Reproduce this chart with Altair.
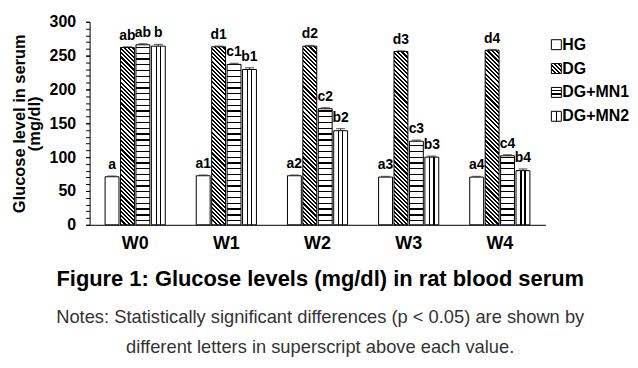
import altair as alt

# ---------------- data ----------------
weeks = ["W0", "W1", "W2", "W3", "W4"]
groups = ["HG", "DG", "DG+MN1", "DG+MN2"]
hg = [71, 72.5, 72.5, 70.5, 70.5]
dg = [262, 263, 264, 256, 258]
mn1 = [266, 237, 171.5, 123.5, 102]
mn2 = [264, 229.5, 139, 100, 80]
hg_err = [1, 1, 1, 1, 1]
dg_err = [1, 1, 1, 1, 1]
mn1_err = [1.5, 1.5, 1.5, 1.5, 1.5]
mn2_err = [2.5, 2.5, 3, 1.5, 2.5]
hg_lbl = ["a", "a1", "a2", "a3", "a4"]
dg_lbl = ["ab", "d1", "d2", "d3", "d4"]
mn1_lbl = ["ab", "c1", "c2", "c3", "c4"]
mn2_lbl = ["b", "b1", "b2", "b3", "b4"]
y_major = [0, 50, 100, 150, 200, 250, 300]
y_minor = list(range(0, 301, 10))

FONT = "Liberation Sans"
PLOT_W, PLOT_H, Y_MAX = 458, 204, 300
PI_X, PO_X, PI_OFF = 0.34, 0.17, 0.1

# bar pixel width (for hatch patterns)
step = PLOT_W / (len(weeks) - PI_X + 2 * PO_X)
band = step * (1 - PI_X)
sub = band / (len(groups) - PI_OFF)
BAR_W = sub * (1 - PI_OFF)


def stops_from(starts, thick_frac):
    st = [{"offset": 0, "color": "#ffffff"}]
    for a in starts:
        b = min(a + thick_frac, 1)
        if a >= 1:
            break
        st += [{"offset": a, "color": "#ffffff"}, {"offset": a, "color": "#000000"},
               {"offset": b, "color": "#000000"}, {"offset": b, "color": "#ffffff"}]
    st.append({"offset": 1, "color": "#ffffff"})
    return st


def diag_fill(w, h, period=4.2, frac=0.5):
    k = (w + h) / (w * w + h * h)
    n = int((w + h) / period) + 1
    starts = [i * period / (w + h) for i in range(n)]
    return {"gradient": "linear", "x1": 0, "y1": 1, "x2": k * w, "y2": 1 - k * h,
            "stops": stops_from(starts, frac * period / (w + h))}


def hline_fill(h, period=5.8, thick=1.3):
    n = int(h / period) + 1
    starts = [(i * period + period * 0.6) / h for i in range(n)]
    return {"gradient": "linear", "x1": 1, "y1": 1, "x2": 1, "y2": 0,
            "stops": stops_from(starts, thick / h)}


def vline_fill(centers=(0.355, 0.655), thick=0.09):
    return {"gradient": "linear", "x1": 0, "y1": 0, "x2": 1, "y2": 0,
            "stops": stops_from([c - thick / 2 for c in centers], thick)}


def fill_for(g, w, h):
    if g == "DG":
        return diag_fill(w, h)
    if g == "DG+MN1":
        return hline_fill(h)
    if g == "DG+MN2":
        return vline_fill()
    return "#ffffff"


rows = []
for g, vals, errs, lbls in zip(groups, [hg, dg, mn1, mn2], [hg_err, dg_err, mn1_err, mn2_err],
                               [hg_lbl, dg_lbl, mn1_lbl, mn2_lbl]):
    for wk, v, e, lb in zip(weeks, vals, errs, lbls):
        rows.append({"week": wk, "group": g, "value": v, "top": v + e, "label": lb,
                     "fillg": fill_for(g, BAR_W, v * PLOT_H / Y_MAX)})

base = alt.Chart(alt.Data(values=rows)).encode(
    x=alt.X("week:N", sort=weeks,
            scale=alt.Scale(paddingInner=PI_X, paddingOuter=PO_X),
            axis=alt.Axis(title=None, labelAngle=0, ticks=False, labelFont=FONT,
                          labelFontSize=18, labelFontWeight="bold", labelColor="black",
                          labelPadding=10, domainColor="black", domainWidth=1)),
    xOffset=alt.XOffset("group:N", sort=groups,
                        scale=alt.Scale(paddingInner=PI_OFF, paddingOuter=0)),
)

yscale = alt.Scale(domain=[0, Y_MAX], nice=False)
bars = base.mark_bar(stroke="black", strokeWidth=1).encode(
    y=alt.Y("value:Q", scale=yscale,
            axis=alt.Axis(values=y_major, labelOverlap=False, grid=False, domainColor="black",
                          tickColor="black", tickSize=4,
                          labelFont=FONT, labelFontSize=16, labelFontWeight="bold",
                          labelColor="black", labelPadding=10,
                          title=["Glucose level in serum", "(mg/dl)"], titleFont=FONT,
                          titleFontSize=16.5, titleFontWeight="bold", titleColor="black",
                          titleLineHeight=15, titlePadding=7)),
    fill=alt.Fill("fillg:N", scale=None),
)
err_rule = base.mark_rule(color="#333333", strokeWidth=1).encode(
    y=alt.Y("value:Q", scale=yscale,
            axis=alt.Axis(values=y_minor, labels=False, domain=False, grid=False,
                          tickColor="black", tickSize=4, title=None, orient="left")),
    y2="top:Q")
err_cap = base.mark_tick(color="#333333", thickness=1.3, size=9).encode(
    y=alt.Y("top:Q", scale=yscale, axis=None))
labels = base.mark_text(baseline="bottom", dy=-4, font=FONT, fontSize=14,
                        fontWeight="bold", color="black").encode(
    y=alt.Y("top:Q", scale=yscale, axis=None), text="label:N")

main = (bars + err_rule + err_cap + labels).resolve_axis(y="independent").properties(
    width=PLOT_W, height=PLOT_H)

# ---------------- legend ----------------
leg_fill = {"HG": "#ffffff", "DG": diag_fill(10, 10, period=4.0),
            "DG+MN1": {"gradient": "linear", "x1": 1, "y1": 1, "x2": 1, "y2": 0,
                       "stops": stops_from([0.28, 0.6], 0.13)},
            "DG+MN2": vline_fill(centers=(0.5,), thick=0.13)}
leg_rows = [{"group": g, "fillg": leg_fill[g]} for g in groups]
leg_base = alt.Chart(alt.Data(values=leg_rows)).encode(
    y=alt.Y("group:N", sort=groups, scale=alt.Scale(type="point", padding=0.96), axis=None))
leg_sq = leg_base.mark_point(shape="square", size=100, filled=True, stroke="black",
                             strokeWidth=1, opacity=1).encode(
    x=alt.value(11), fill=alt.Fill("fillg:N", scale=None))
leg_tx = leg_base.mark_text(align="left", baseline="middle", font=FONT, fontSize=16,
                            fontWeight="bold", color="black").encode(
    x=alt.value(17), text="group:N")
legend = (leg_sq + leg_tx).properties(width=74, height=118)

chart = alt.hconcat(main, legend, spacing=0).properties(
    title=alt.TitleParams(
        text="Figure 1: Glucose levels (mg/dl) in rat blood serum",
        subtitle=["Notes: Statistically significant differences (p < 0.05) are shown by",
                  "different letters in superscript above each value."],
        orient="bottom", anchor="middle", font=FONT, fontSize=22, fontWeight="bold",
        color="black", subtitleFont=FONT, subtitleFontSize=18.4, subtitleColor="#333333",
        subtitleLineHeight=30, subtitlePadding=18, offset=16),
    padding={"left": 3, "right": 0, "top": 5, "bottom": 0},
).configure_view(stroke=None)

chart.save("out.html", embed_options={"renderer": "svg", "actions": False})
